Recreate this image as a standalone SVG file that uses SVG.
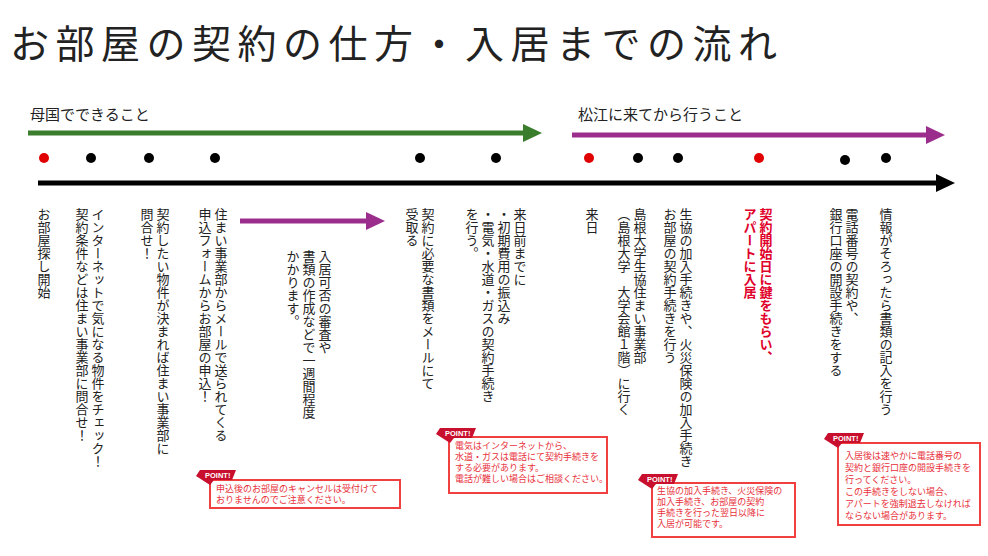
<svg xmlns="http://www.w3.org/2000/svg" width="988" height="556" viewBox="0 0 988 556">
<style>
text{font-family:"Noto Sans CJK JP","Noto Sans",sans-serif;fill:#222}
.v{writing-mode:vertical-rl;font-size:13px}
.r{fill:#e0002a;font-weight:bold}
.p{font-size:9px;fill:#e8303a}
.box{fill:#fff;stroke:#f04040;stroke-width:2}
.tag{fill:#c8102e}
.tt{font-size:7.5px;fill:#fff;font-weight:bold;font-family:"Liberation Sans",sans-serif}
</style>
<rect width="988" height="556" fill="#fff"/>
<text x="10" y="58" font-size="39" letter-spacing="6.5">お部屋の契約の仕方・入居までの流れ</text>
<text x="30" y="120" font-size="15">母国でできること</text>
<text x="578" y="120" font-size="15">松江に来てから行うこと</text>
<g id="connectors">
<line x1="28" y1="133" x2="525" y2="133" stroke="#3a7d2c" stroke-width="5"/>
<path d="M523,124L542,133L523,142z" fill="#3a7d2c"/>
<line x1="572" y1="135" x2="928" y2="135" stroke="#9b2e8c" stroke-width="5"/>
<path d="M926,126L945,135L926,144z" fill="#9b2e8c"/>
<line x1="38" y1="183" x2="938" y2="183" stroke="#000" stroke-width="5"/>
<path d="M936,174L955,183L936,192z" fill="#000"/>
<line x1="240" y1="221" x2="368" y2="221" stroke="#9b2e8c" stroke-width="5"/>
<path d="M366,212L385,221L366,230z" fill="#9b2e8c"/>
</g>
<g id="dots">
<circle cx="44" cy="158" r="5" fill="#e00000"/>
<circle cx="91" cy="158" r="5"/>
<circle cx="149" cy="158" r="5"/>
<circle cx="215" cy="158" r="5"/>
<circle cx="420" cy="158" r="5"/>
<circle cx="496" cy="158" r="5"/>
<circle cx="589" cy="158" r="5" fill="#e00000"/>
<circle cx="638" cy="158" r="5"/>
<circle cx="678" cy="158" r="5"/>
<circle cx="759" cy="158" r="5" fill="#e00000"/>
<circle cx="845" cy="160" r="5"/>
<circle cx="886" cy="158" r="5"/>
</g>
<g id="s1"><text class="v" x="44" y="208">お部屋探し開始</text></g>
<g id="s2"><text class="v" x="98" y="208">インターネットで気になる物件をチェック！</text><text class="v" x="82" y="208">契約条件などは住まい事業部に問合せ！</text></g>
<g id="s3"><text class="v" x="163" y="208">契約したい物件が決まれば住まい事業部に</text><text class="v" x="147" y="208">問合せ！</text></g>
<g id="s4"><text class="v" x="221" y="208">住まい事業部からメールで送られてくる</text><text class="v" x="205" y="208">申込フォームからお部屋の申込！</text></g>
<g id="s5"><text class="v" x="325" y="250">入居可否の審査や</text><text class="v" x="309" y="250">書類の作成などで一週間程度</text><text class="v" x="293" y="250">かかります。</text></g>
<g id="s6"><text class="v" x="428" y="208">契約に必要な書類をメールにて</text><text class="v" x="412" y="208">受取る</text></g>
<g id="s7"><text class="v" x="520" y="208">来日前までに</text><text class="v" x="504" y="208">・初期費用の振込み</text><text class="v" x="488" y="208">・電気・水道・ガスの契約手続き</text><text class="v" x="472" y="208">を行う。</text></g>
<g id="s8"><text class="v" x="592" y="208">来日</text></g>
<g id="s9"><text class="v" x="640" y="208">島根大学生協住まい事業部</text><text class="v" x="624" y="208">（島根大学　大学会館１階）に行く</text></g>
<g id="s10"><text class="v" x="686" y="208">生協の加入手続きや、火災保険の加入手続き</text><text class="v" x="670" y="208">お部屋の契約手続きを行う</text></g>
<g id="s11"><text class="v r" x="766" y="208">契約開始日に鍵をもらい、</text><text class="v r" x="750" y="208">アパートに入居</text></g>
<g id="s12"><text class="v" x="852" y="208">電話番号の契約や、</text><text class="v" x="836" y="208">銀行口座の開設手続きをする</text></g>
<g id="s13"><text class="v" x="886" y="208">情報がそろったら書類の記入を行う</text></g>
<g id="pt1"><rect class="box" x="210" y="480" width="190" height="28"/><path class="tag" d="M200,470h36l-4,10h-18l-4,5l-14,-9z"/><text class="tt" x="205" y="477.5">POINT!</text>
<text class="p" x="216" y="492">申込後のお部屋のキャンセルは受付けて</text><text class="p" x="216" y="503">おりませんのでご注意ください。</text></g>
<g id="pt2"><rect class="box" x="449" y="437" width="158" height="56"/><path class="tag" d="M440,428h36l-4,10h-18l-4,5l-14,-9z"/><text class="tt" x="445" y="435.5">POINT!</text>
<text class="p" x="455" y="449">電気はインターネットから、</text><text class="p" x="455" y="460">水道・ガスは電話にて契約手続きを</text><text class="p" x="455" y="471">する必要があります。</text><text class="p" x="455" y="482">電話が難しい場合はご相談ください。</text></g>
<g id="pt3"><rect class="box" x="652" y="483" width="143" height="54"/><path class="tag" d="M642,474h36l-4,10h-18l-4,5l-14,-9z"/><text class="tt" x="647" y="481.5">POINT!</text>
<text class="p" x="657" y="494">生協の加入手続き、火災保険の</text><text class="p" x="657" y="505">加入手続き、お部屋の契約</text><text class="p" x="657" y="516">手続きを行った翌日以降に</text><text class="p" x="657" y="527">入居が可能です。</text></g>
<g id="pt4"><rect class="box" x="838" y="443" width="142" height="82"/><path class="tag" d="M828,433h36l-4,10h-18l-4,5l-14,-9z"/><text class="tt" x="833" y="440.5">POINT!</text>
<text class="p" x="845" y="459">入居後は速やかに電話番号の</text><text class="p" x="845" y="471">契約と銀行口座の開設手続きを</text><text class="p" x="845" y="483">行ってください。</text><text class="p" x="845" y="495">この手続きをしない場合、</text><text class="p" x="845" y="507">アパートを強制退去しなければ</text><text class="p" x="845" y="519">ならない場合があります。</text></g>
</svg>
